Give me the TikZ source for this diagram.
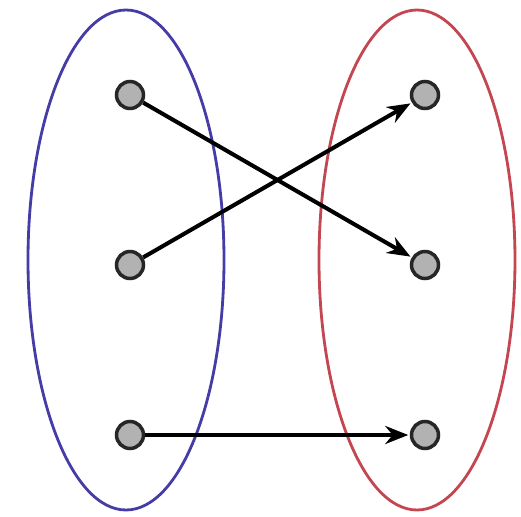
\documentclass[tikz,border=0pt]{standalone}
\usetikzlibrary{arrows.meta}
\definecolor{setblue}{RGB}{70,60,165}
\definecolor{setred}{RGB}{195,70,80}
\begin{document}
\begin{tikzpicture}[
  x = 0.2mm, y = -0.2mm,
  % Elements are small grey dots, the sets are the two ellipses round them.
  elem/.style  = {circle, draw=black!85, fill=black!30, line width=2pt,
                  minimum size=5.4mm, inner sep=0pt},
  set/.style   = {line width=1.6pt},
  map/.style   = {line width=2.3pt, -{Stealth[length=4.6mm, width=3.6mm]},
                  shorten >=0.3mm},
]
\useasboundingbox (0, 0) rectangle (521, 517);

% --- domain
\draw[set, setblue] (126, 260) ellipse [x radius=98, y radius=250];
\node[elem] (a1) at (130, 95) {};
\node[elem] (a2) at (130, 265) {};
\node[elem] (a3) at (130, 435) {};

% --- codomain
\draw[set, setred] (417, 260) ellipse [x radius=98, y radius=250];
\node[elem] (b1) at (425, 95) {};
\node[elem] (b2) at (425, 265) {};
\node[elem] (b3) at (425, 435) {};

% --- the mapping
\draw[map] (a1) -- (b2);
\draw[map] (a2) -- (b1);
\draw[map] (a3) -- (b3);

\end{tikzpicture}
\end{document}
